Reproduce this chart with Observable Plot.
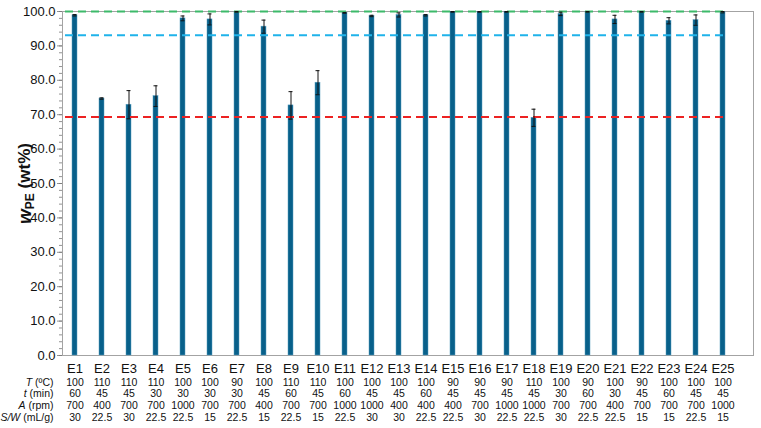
<!DOCTYPE html>
<html>
<head>
<meta charset="utf-8">
<script src="https://cdn.jsdelivr.net/npm/d3@7"></script>
<script src="https://cdn.jsdelivr.net/npm/@observablehq/plot@0.6"></script>
<style>
  html, body { margin: 0; padding: 0; background: #fff; }
  #chart svg { display: block; }
</style>
</head>
<body>
<div id="chart"></div>
<script>
const categories = ["E1","E2","E3","E4","E5","E6","E7","E8","E9","E10","E11","E12","E13","E14","E15","E16","E17","E18","E19","E20","E21","E22","E23","E24","E25"];
const wpe = [98.9, 74.7, 72.9, 75.4, 98.0, 97.7, 99.9, 95.6, 72.7, 79.3, 99.6, 98.7, 99.0, 98.9, 99.9, 99.9, 99.9, 69.1, 99.3, 99.9, 97.7, 99.9, 97.3, 97.5, 99.8];
const wpeErr = [0.2, 0.2, 4.1, 3.0, 0.7, 1.6, 0.1, 1.9, 4.0, 3.5, 0.1, 0.2, 0.6, 0.2, 0.1, 0.1, 0.1, 2.5, 0.5, 0.1, 1.2, 0.1, 0.9, 1.5, 0.2];
const tempC = [100,110,110,110,100,100,90,100,110,110,100,100,100,100,90,90,90,110,100,90,100,90,100,100,100];
const timeMin = [60,45,45,30,30,30,30,45,60,45,60,45,45,60,45,45,45,45,30,60,30,45,60,45,45];
const agitRpm = [700,400,700,700,1000,700,700,400,700,700,1000,1000,400,400,400,700,1000,1000,700,700,400,700,700,700,1000];
const swRatio = [30,22.5,30,22.5,22.5,15,22.5,15,22.5,15,22.5,30,30,22.5,22.5,30,22.5,22.5,30,22.5,22.5,15,15,22.5,15];
const rowLabels = ["T (ºC)", "t (min)", "A (rpm)", "S/W (mL/g)"];
const refLines = [
  {value: 100.0, color: "#3dba6a"},
  {value: 93.1, color: "#1fb3ea"},
  {value: 69.3, color: "#ec2222"}
];
const yTicks = d3.range(0, 101, 10);
const yMinor = d3.range(0, 101, 2);

const data = categories.map((c, i) => ({
  cat: c, v: wpe[i], lo: wpe[i] - wpeErr[i], hi: Math.min(100.4, wpe[i] + wpeErr[i]),
  T: tempC[i], t: timeMin[i], A: agitRpm[i], SW: swRatio[i]
}));

const rows = [
  {key: "T", dy: 27},
  {key: "t", dy: 38.5},
  {key: "A", dy: 50.5},
  {key: "SW", dy: 62.5}
];

const font = "Liberation Sans, Arial, Helvetica, sans-serif";

const chart = Plot.plot({
  width: 761,
  height: 428,
  marginTop: 11,
  marginBottom: 73,
  marginLeft: 62,
  marginRight: 8,
  style: {fontFamily: font, background: "#fff", color: "#111"},
  x: {domain: categories, paddingInner: 0.8, paddingOuter: 0.407, align: 0.255, axis: null},
  y: {domain: [0, 100]},
  marks: [
    Plot.frame({stroke: "#a3a3a3", strokeWidth: 1}),
    Plot.axisY({ticks: yMinor, tickSize: 3, tickFormat: () => "", stroke: "#777", strokeWidth: 0.8, label: null}),
    Plot.axisY({ticks: yTicks, tickSize: 5, tickPadding: 2, tickFormat: d3.format(".1f"), fontSize: 13, stroke: "#777", strokeWidth: 0.8,
      label: "wPE (wt%)", labelAnchor: "center", labelArrow: "none", labelOffset: 44}),
    Plot.barY(data, {x: "cat", y: "v", fill: "#08608a", stroke: "#5a9ec0", strokeWidth: 0.5}),
    Plot.ruleY(refLines, {y: "value", stroke: "color", strokeWidth: 2, strokeDasharray: "8,5", insetLeft: 3, insetRight: 25}),
    Plot.ruleX(data, {x: "cat", y1: "lo", y2: "hi", stroke: "#111", strokeWidth: 1}),
    Plot.tickY(data, {x: "cat", y: "lo", stroke: "#111", strokeWidth: 1, insetLeft: 0.5, insetRight: 0.5}),
    Plot.tickY(data, {x: "cat", y: "hi", stroke: "#111", strokeWidth: 1, insetLeft: 0.5, insetRight: 0.5}),
    Plot.text(data, {x: "cat", text: "cat", frameAnchor: "bottom", dy: 13, fontSize: 13, lineAnchor: "middle", fill: "#111"}),
    ...rows.map(r => Plot.text(data, {x: "cat", text: d => String(d[r.key]), frameAnchor: "bottom", dy: r.dy, fontSize: 10.5, lineAnchor: "middle", fill: "#111"})),
    ...rows.map((r, i) => Plot.text([rowLabels[i]], {text: d => d, frameAnchor: "bottom-left", dx: -9, dy: r.dy, textAnchor: "end", fontSize: 10.5, lineAnchor: "middle", fill: "#111", className: "rowlab"}))
  ]
});

document.getElementById("chart").appendChild(chart);

// Rich-text formatting: italic variable names, subscript
const svg = d3.select(chart);
svg.selectAll(".rowlab text").each(function() {
  const el = d3.select(this);
  const s = el.text();
  const idx = s.indexOf(" ");
  const v = s.slice(0, idx), rest = s.slice(idx);
  el.text(null);
  el.append("tspan").attr("font-style", "italic").text(v);
  el.append("tspan").text(rest);
});
svg.selectAll("[aria-label='y-axis label'] text").each(function() {
  const el = d3.select(this);
  el.text(null).attr("font-weight", "bold").attr("font-size", 17);
  el.append("tspan").attr("font-style", "italic").attr("font-size", 19).text("w");
  el.append("tspan").attr("font-size", 12).attr("dy", "0.3em").text("PE");
  el.append("tspan").attr("dy", "-0.25em").text(" (wt%)");
});
</script>
</body>
</html>
